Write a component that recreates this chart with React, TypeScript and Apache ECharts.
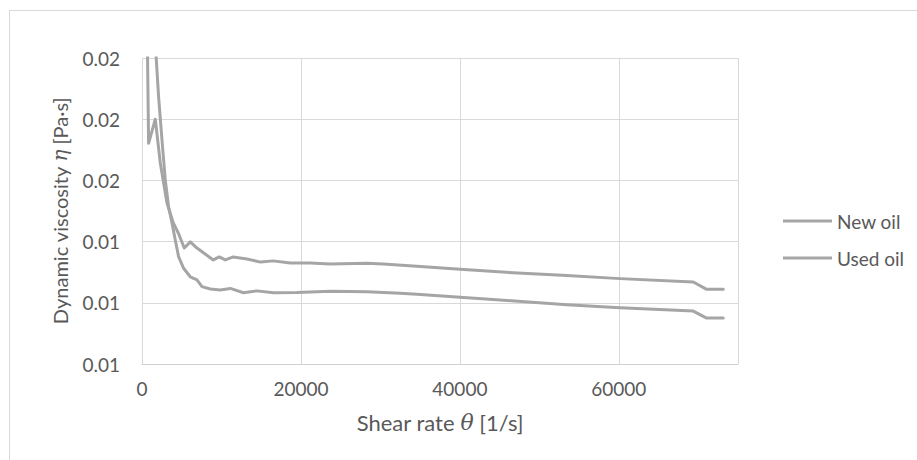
import React, { useEffect, useRef } from "react";
import * as echarts from "echarts";

const xTicks = [0, 20000, 40000, 60000];
const yTicks = [0.01, 0.012, 0.014, 0.016, 0.018, 0.02];

const newOilX = [560, 830, 1673, 2302, 3144, 3937, 4566, 5320, 6075, 6917, 8967, 9722, 10477, 11483, 13206, 14924, 16513, 18652, 21167, 23683, 28298, 30348, 34121, 40032, 46698, 53452, 60155, 69374, 71059, 73147];
const newOilY = [0.023, 0.01721, 0.018, 0.01657, 0.01526, 0.01461, 0.01428, 0.01379, 0.01399, 0.01379, 0.0134, 0.0135, 0.0134, 0.0135, 0.01343, 0.01333, 0.01337, 0.0133, 0.0133, 0.01327, 0.01329, 0.01327, 0.0132, 0.0131, 0.01298, 0.01289, 0.01279, 0.01268, 0.01244, 0.01244];

const usedOilX = [1500, 2088, 2515, 2930, 3345, 3773, 4188, 4603, 5232, 6075, 6917, 7546, 8590, 9848, 11106, 12778, 14464, 16551, 19494, 23683, 28298, 32490, 34587, 40032, 45063, 53452, 60155, 69374, 71059, 73147];
const usedOilY = [0.0212, 0.01874, 0.01732, 0.01601, 0.01514, 0.01461, 0.01405, 0.01351, 0.01313, 0.01285, 0.01275, 0.01253, 0.01245, 0.01242, 0.01247, 0.01233, 0.01239, 0.01233, 0.01234, 0.01238, 0.01236, 0.01231, 0.01228, 0.01218, 0.01209, 0.01194, 0.01184, 0.01173, 0.0115, 0.0115];

const seriesNames = ["New oil", "Used oil"];

const FONT = "Lato, 'Open Sans', sans-serif";
const TEXT = "#595959";
const GRID = "#d9d9d9";
const LINE = "#a5a5a5";

export default function App() {
  const ref = useRef<HTMLDivElement>(null);
  useEffect(() => {
    if (!ref.current) return;
    const chart = echarts.init(ref.current, undefined, { renderer: "svg" });
    const pair = (xs: number[], ys: number[]) => xs.map((x, i) => [x, ys[i]]);
    chart.setOption({
      animation: false,
      backgroundColor: "#ffffff",
      textStyle: { fontFamily: FONT },
      grid: { left: 142, top: 58, right: 179, bottom: 96 },
      graphic: [
        { type: "line", shape: { x1: 9, y1: 10.5, x2: 917, y2: 10.5 }, style: { stroke: GRID, lineWidth: 1 }, silent: true },
        { type: "line", shape: { x1: 9.5, y1: 10, x2: 9.5, y2: 460 }, style: { stroke: GRID, lineWidth: 1 }, silent: true },
      ],
      legend: {
        orient: "vertical",
        left: 778,
        top: 206,
        icon: "rect",
        itemWidth: 49,
        itemHeight: 3,
        itemGap: 17,
        data: seriesNames,
        textStyle: { color: TEXT, fontSize: 19, fontFamily: FONT, lineHeight: 20 },
      },
      xAxis: {
        type: "value",
        min: 0,
        max: 75000,
        interval: 20000,
        name: "Shear rate {i|θ} [1/s]",
        nameLocation: "middle",
        nameGap: 47,
        nameTextStyle: {
          color: TEXT,
          fontSize: 22,
          fontFamily: FONT,
          rich: { i: { fontStyle: "italic", fontSize: 22, color: TEXT, fontFamily: "'DejaVu Serif', serif" } },
        },
        axisLine: { show: true, lineStyle: { color: "#d0d0d0", width: 1 } },
        axisTick: { show: false },
        splitLine: { show: true, lineStyle: { color: GRID, width: 1 } },
        axisLabel: {
          color: TEXT,
          fontSize: 19,
          fontFamily: FONT,
          margin: 15,
          customValues: xTicks,
          formatter: (v: number) => String(v),
        },
      },
      yAxis: {
        type: "value",
        min: 0.01,
        max: 0.02,
        interval: 0.002,
        name: "Dynamic viscosity {i|η} [Pa·s]",
        nameLocation: "middle",
        nameGap: 72,
        nameRotate: 90,
        nameTextStyle: {
          color: TEXT,
          fontSize: 20,
          fontFamily: FONT,
          rich: { i: { fontStyle: "italic", fontSize: 20, color: TEXT, fontFamily: "'DejaVu Serif', serif" } },
        },
        axisLine: { show: false },
        axisTick: { show: false },
        splitLine: { show: true, lineStyle: { color: GRID, width: 1 } },
        axisLabel: {
          color: TEXT,
          fontSize: 19,
          fontFamily: FONT,
          margin: 22,
          customValues: yTicks,
          formatter: (v: number) => v.toFixed(2),
        },
      },
      series: [
        {
          name: seriesNames[0],
          type: "line",
          data: pair(newOilX, newOilY),
          showSymbol: false,
          symbol: "none",
          clip: true,
          lineStyle: { color: LINE, width: 3, cap: "round", join: "round" },
          itemStyle: { color: LINE },
        },
        {
          name: seriesNames[1],
          type: "line",
          data: pair(usedOilX, usedOilY),
          showSymbol: false,
          symbol: "none",
          clip: true,
          lineStyle: { color: LINE, width: 3, cap: "round", join: "round" },
          itemStyle: { color: LINE },
        },
      ],
    });
    return () => chart.dispose();
  }, []);
  return <div ref={ref} style={{ position: "fixed", left: 0, top: 0, width: 917, height: 460 }} />;
}
